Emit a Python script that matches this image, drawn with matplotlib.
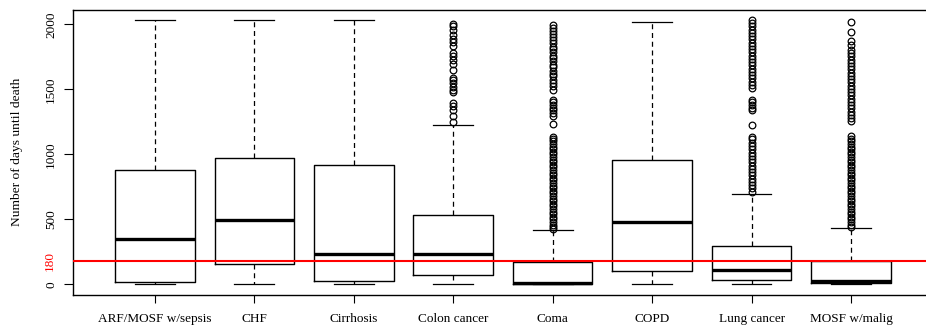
import matplotlib
matplotlib.use('Agg')
import matplotlib.pyplot as plt
import matplotlib.transforms as mtrans

plt.rcParams['font.family'] = ['Liberation Serif', 'DejaVu Serif']

# days until death, per disease group
categories = ['ARF/MOSF w/sepsis', 'CHF', 'Cirrhosis', 'Colon cancer',
              'Coma', 'COPD', 'Lung cancer', 'MOSF w/malig']
whis_lo = [0, 0, 0, 0, 0, 0, 0, 0]
q1 = [21, 157, 26, 75, 3, 103, 31, 8]
medians = [349, 498, 234, 234, 10, 482, 108, 23]
q3 = [877, 972, 918, 538, 172, 959, 298, 180]
whis_hi = [2031, 2031, 2031, 1228, 418, 2015, 695, 438]

colon_out = [2005, 1985, 1954, 1921, 1888, 1862, 1831, 1780, 1754, 1728, 1698,
             1652, 1588, 1575, 1549, 1518, 1498, 1477, 1395, 1369, 1344, 1292, 1246]
coma_out = [1997, 1975, 1950, 1925, 1900, 1880, 1855, 1830, 1810, 1785, 1760,
            1740, 1715, 1690, 1670, 1645, 1620, 1600, 1575, 1550, 1525, 1498,
            1421, 1400, 1380, 1360, 1340, 1315, 1292, 1236,
            1138, 1120, 1100, 1080, 1060, 1040, 1020, 1000, 980, 960, 940, 920,
            900, 880, 860, 840, 820, 800, 780, 760, 740, 720, 700, 680, 660, 640,
            620, 600, 580, 560, 540, 520, 500, 480, 460, 440, 425]
lung_out = [2036, 2010, 1985, 1960, 1935, 1910, 1885, 1860, 1835, 1810, 1785,
            1760, 1735, 1710, 1685, 1660, 1635, 1610, 1585, 1560, 1535, 1510,
            1420, 1400, 1380, 1360, 1344, 1228,
            1138, 1115, 1090, 1065, 1040, 1015, 990, 965, 940, 915, 890, 865,
            840, 815, 790, 765, 740, 715]
mosf_out = [2015, 1941, 1870, 1840, 1805, 1780, 1755, 1730, 1705, 1680, 1655,
            1630, 1605, 1580, 1555, 1530, 1505, 1480, 1455, 1430, 1405, 1380,
            1355, 1330, 1305, 1280, 1254,
            1144, 1120, 1100, 1080, 1060, 1040, 1020, 1000, 980, 960, 940, 920,
            900, 880, 860, 840, 820, 800, 780, 760, 740, 720, 700, 680, 660, 640,
            620, 600, 580, 560, 540, 520, 500, 480, 460, 445]
outliers = [[], [], [], colon_out, coma_out, [], lung_out, mosf_out]

cutoff = 180

stats = []
for i, name in enumerate(categories):
    stats.append(dict(label=name, whislo=whis_lo[i], q1=q1[i], med=medians[i],
                      q3=q3[i], whishi=whis_hi[i], fliers=outliers[i]))

fig = plt.figure(figsize=(9.26, 3.33), dpi=100)
ax = fig.add_axes([73 / 926, 1 - 295 / 333, 1 - 73 / 926, 285 / 333])

ax.bxp(stats, widths=0.8, capwidths=0.4, showfliers=True,
       boxprops=dict(color='black', linewidth=1.0),
       medianprops=dict(color='black', linewidth=2.4, solid_capstyle='butt'),
       whiskerprops=dict(color='black', linewidth=0.9, linestyle=(0, (4, 3))),
       capprops=dict(color='black', linewidth=0.9),
       flierprops=dict(marker='o', markerfacecolor='none', markeredgecolor='black',
                       markersize=4.8, markeredgewidth=0.9, linestyle='none'))

ax.axhline(cutoff, color='red', linewidth=1.5, zorder=5)

ax.set_xlim(0.176, 8.754)
ax.set_ylim(-81, 2111)
ax.set_xticks(range(1, len(categories) + 1))
ax.set_xticklabels(categories, fontsize=9.5)
ax.set_yticks([0, 500, 1000, 1500, 2000])
ax.set_yticklabels(['0', '500', '1000', '1500', '2000'], rotation=90,
                   va='center', fontsize=9.5)
ax.tick_params(axis='y', length=6.5, width=0.8, pad=5)
ax.tick_params(axis='x', length=6, width=0.8, pad=7)
ax.spines['right'].set_visible(False)
for s in ['left', 'top', 'bottom']:
    ax.spines[s].set_linewidth(1.0)

trans = mtrans.blended_transform_factory(fig.transFigure, ax.transData)
ax.text(50 / 926, cutoff, '180', color='red', rotation=90, va='center',
        ha='center', fontsize=9.5, transform=trans)

fig.text(17 / 926, 1 - 152 / 333, 'Number of days until death', rotation=90,
         va='center', ha='center', fontsize=9.7)

fig.savefig('out.png', dpi=100)
